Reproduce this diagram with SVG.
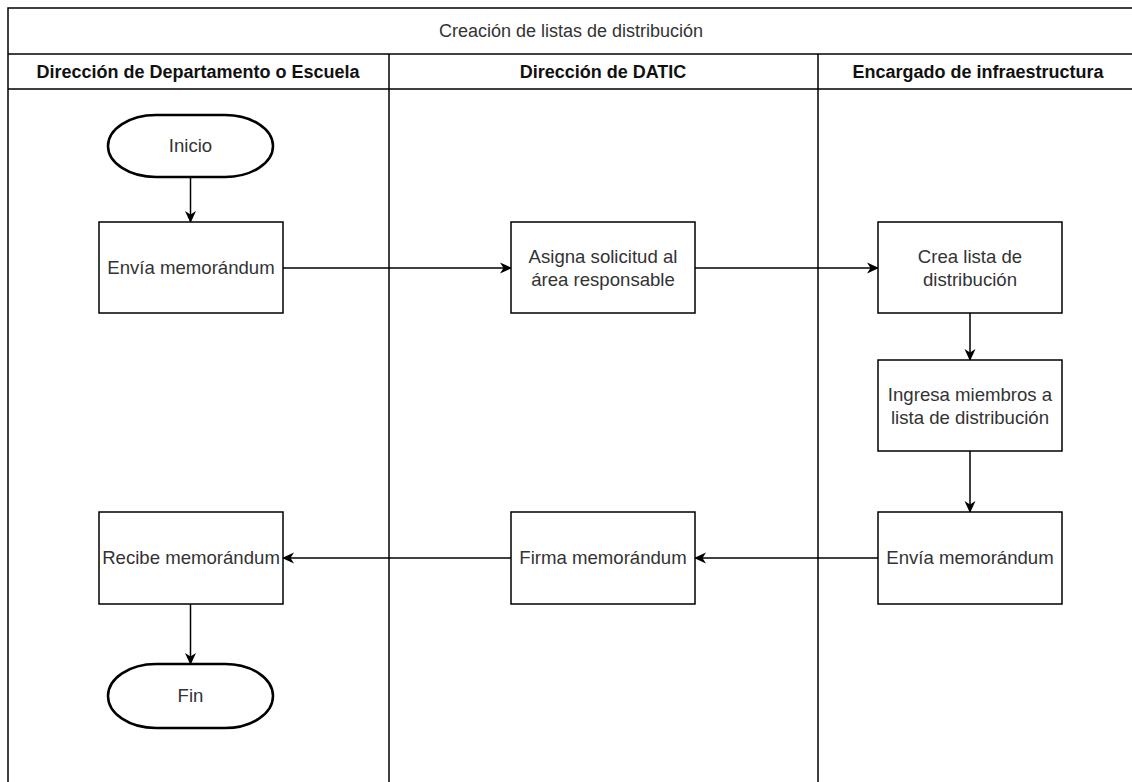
<svg xmlns="http://www.w3.org/2000/svg" width="1132" height="782" viewBox="0 0 1132 782">
<defs>
<style>
.ln{fill:none;stroke:#000;stroke-width:1.5}
.nd{fill:#fff;stroke:#000;stroke-width:1.5}
.tm{fill:#fff;stroke:#000;stroke-width:2.5}
.t{font-family:"Liberation Sans",Arial,sans-serif;font-size:18.6px;fill:#333;text-anchor:middle}
.ti{font-family:"Liberation Sans",Arial,sans-serif;font-size:18px;fill:#333;text-anchor:middle}
.h{font-family:"Liberation Sans",Arial,sans-serif;font-size:18px;font-weight:bold;fill:#111;text-anchor:middle}
.c{fill:none;stroke:#000;stroke-width:1.5}
</style>
<marker id="arr" viewBox="0 0 12 12" refX="11" refY="6" markerWidth="12" markerHeight="12" markerUnits="userSpaceOnUse" orient="auto">
<path d="M0,0.5 L12,6 L0,11.5 L3.5,6 Z" fill="#000"/>
</marker>
</defs>
<rect width="1132" height="782" fill="#fff"/>
<g id="pool">
<rect class="ln" x="8" y="8" width="1132" height="790"/>
<line class="ln" x1="8" y1="54" x2="1140" y2="54"/>
<line class="ln" x1="8" y1="89" x2="1140" y2="89"/>
<line class="ln" x1="389" y1="54" x2="389" y2="790"/>
<line class="ln" x1="818" y1="54" x2="818" y2="790"/>
<text class="ti" x="571" y="37">Creación de listas de distribución</text>
<text class="h" x="198" y="78">Dirección de Departamento o Escuela</text>
<text class="h" x="603" y="78">Dirección de DATIC</text>
<text class="h" x="978" y="78">Encargado de infraestructura</text>
</g>
<g id="connectors">
<line class="c" x1="190.5" y1="177" x2="190.5" y2="222" marker-end="url(#arr)"/>
<line class="c" x1="283" y1="268" x2="511" y2="268" marker-end="url(#arr)"/>
<line class="c" x1="695" y1="268" x2="878" y2="268" marker-end="url(#arr)"/>
<line class="c" x1="970" y1="313" x2="970" y2="360" marker-end="url(#arr)"/>
<line class="c" x1="970" y1="451" x2="970" y2="512" marker-end="url(#arr)"/>
<line class="c" x1="878" y1="558" x2="695" y2="558" marker-end="url(#arr)"/>
<line class="c" x1="511" y1="558" x2="283" y2="558" marker-end="url(#arr)"/>
<line class="c" x1="190.5" y1="604" x2="190.5" y2="664" marker-end="url(#arr)"/>
</g>
<g id="inicio">
<rect class="tm" x="108" y="115" width="165" height="62" rx="48" ry="31"/>
<text class="t" x="190.5" y="152">Inicio</text>
</g>
<g id="envia1">
<rect class="nd" x="99" y="222" width="184" height="91"/>
<text class="t" x="191" y="274">Envía memorándum</text>
</g>
<g id="asigna">
<rect class="nd" x="511" y="222" width="184" height="91"/>
<text class="t" x="603" y="263">Asigna solicitud al</text>
<text class="t" x="603" y="286">área responsable</text>
</g>
<g id="crea">
<rect class="nd" x="878" y="222" width="184" height="91"/>
<text class="t" x="970" y="263">Crea lista de</text>
<text class="t" x="970" y="286">distribución</text>
</g>
<g id="ingresa">
<rect class="nd" x="878" y="360" width="184" height="91"/>
<text class="t" x="970" y="401">Ingresa miembros a</text>
<text class="t" x="970" y="424">lista de distribución</text>
</g>
<g id="envia2">
<rect class="nd" x="878" y="512" width="184" height="92"/>
<text class="t" x="970" y="564">Envía memorándum</text>
</g>
<g id="firma">
<rect class="nd" x="511" y="512" width="184" height="92"/>
<text class="t" x="603" y="564">Firma memorándum</text>
</g>
<g id="recibe">
<rect class="nd" x="99" y="512" width="184" height="92"/>
<text class="t" x="191" y="564">Recibe memorándum</text>
</g>
<g id="fin">
<rect class="tm" x="108" y="664" width="165" height="64" rx="48" ry="32"/>
<text class="t" x="190.5" y="702">Fin</text>
</g>
</svg>
